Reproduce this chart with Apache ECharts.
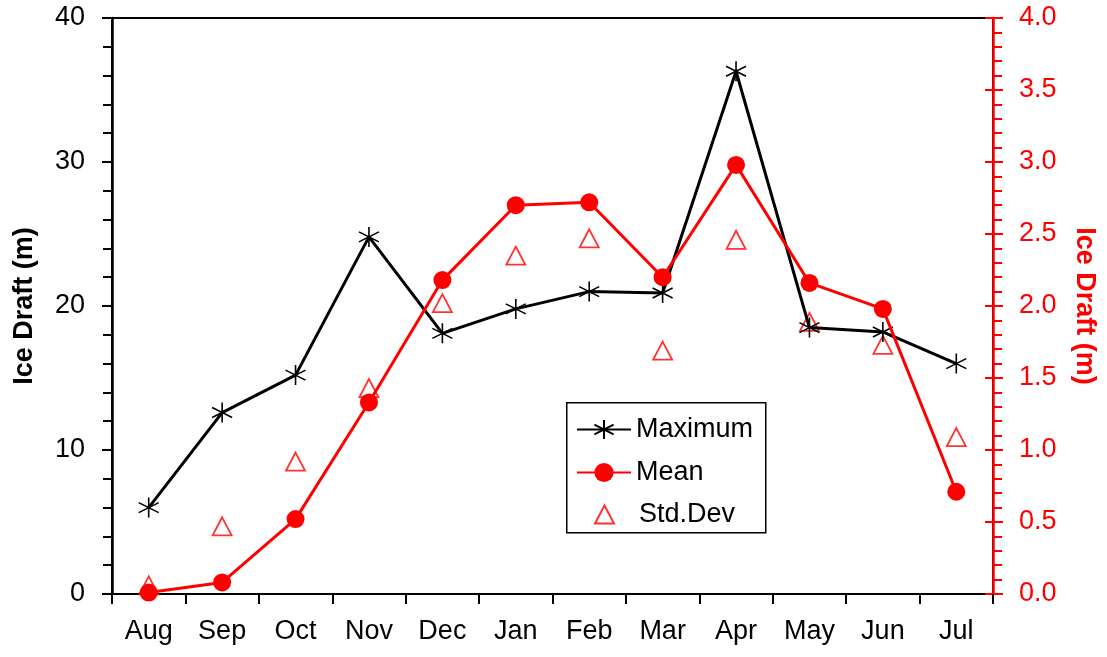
<!DOCTYPE html>
<html>
<head>
<meta charset="utf-8">
<script src="https://cdn.jsdelivr.net/npm/echarts@6/dist/echarts.min.js"></script>
<style>
    html, body { margin: 0; padding: 0; background: #fff; }
    #chart { width: 1107px; height: 657px; }
</style>
</head>
<body>
<div id="chart"></div>
<script>
// 月份
var months = ['Aug', 'Sep', 'Oct', 'Nov', 'Dec', 'Jan', 'Feb', 'Mar', 'Apr', 'May', 'Jun', 'Jul'];
// 最大冰吃水 (左轴, m)
var maximum = [6.0, 12.6, 15.2, 24.8, 18.1, 19.8, 21.0, 20.9, 36.3, 18.5, 18.2, 16.0];
// 平均冰吃水 (右轴, m)
var mean = [0.01, 0.08, 0.52, 1.33, 2.18, 2.70, 2.72, 2.20, 2.98, 2.16, 1.98, 0.71];
// 标准差 (右轴, m)
var stdDev = [0.06, 0.47, 0.92, 1.43, 2.02, 2.35, 2.47, 1.69, 2.46, 1.89, 1.73, 1.09];

var FONT = "'Liberation Sans', Arial, sans-serif";
var RED = '#ff0000';
var FS = 27;
// 星号标记
var asterisk = 'path://M0,-10L0,10M-8.66,-5L8.66,5M-8.66,5L8.66,-5';

var myChart = echarts.init(document.getElementById('chart'));

myChart.setOption({
    animation: false,
    textStyle: { fontFamily: FONT },
    grid: {
        left: 112,
        right: 114,
        top: 18,
        bottom: 63,
        show: true,
        borderColor: '#000',
        borderWidth: 2,
        backgroundColor: 'transparent'
    },
    // 图例外框
    graphic: [
        {
            type: 'rect',
            left: 566,
            top: 402,
            shape: { width: 199, height: 130 },
            style: { fill: '#fff', stroke: '#000', lineWidth: 1.5 },
            z: 5
        }
    ],
    legend: [
        {
            orient: 'vertical',
            left: 576,
            top: 414,
            itemWidth: 54,
            itemHeight: 24,
            itemGap: 12,
            padding: 0,
            z: 10,
            textStyle: { fontSize: FS, color: '#000', lineHeight: 31, fontFamily: FONT },
            data: ['Maximum', 'Mean']
        },
        {
            orient: 'vertical',
            left: 594,
            top: 499,
            itemWidth: 19,
            itemHeight: 18,
            padding: 0,
            z: 10,
            textStyle: {
                fontSize: FS,
                color: '#000',
                lineHeight: 31,
                fontFamily: FONT,
                padding: [0, 0, 0, 20]
            },
            data: ['Std.Dev']
        }
    ],
    xAxis: {
        type: 'category',
        data: months,
        boundaryGap: true,
        axisLine: { lineStyle: { color: '#000', width: 2 } },
        axisTick: { show: true, length: 10, lineStyle: { color: '#000', width: 2 } },
        axisLabel: { color: '#000', fontSize: FS, margin: 24, fontFamily: FONT }
    },
    yAxis: [
        {
            type: 'value',
            position: 'left',
            min: 0,
            max: 40,
            interval: 10,
            name: 'Ice Draft (m)',
            nameLocation: 'middle',
            nameRotate: 90,
            nameGap: 74,
            nameTextStyle: { fontSize: FS, fontWeight: 'bold', color: '#000', fontFamily: FONT },
            axisLine: { show: true, lineStyle: { color: '#000', width: 2.5 } },
            axisTick: { show: true, length: 10, lineStyle: { color: '#000', width: 2 } },
            minorTick: { show: true, splitNumber: 5, length: 9, lineStyle: { color: '#000', width: 2 } },
            splitLine: { show: false },
            axisLabel: { color: '#000', fontSize: FS, margin: 27, fontFamily: FONT }
        },
        {
            type: 'value',
            position: 'right',
            min: 0,
            max: 4,
            interval: 0.5,
            name: 'Ice Draft (m)',
            nameLocation: 'middle',
            nameRotate: -90,
            nameGap: 78,
            nameTextStyle: { fontSize: FS, fontWeight: 'bold', color: RED, fontFamily: FONT },
            axisLine: { show: true, lineStyle: { color: RED, width: 2.5 } },
            axisTick: { show: true, length: 10, lineStyle: { color: RED, width: 2 } },
            minorTick: { show: true, splitNumber: 5, length: 9, lineStyle: { color: RED, width: 2 } },
            splitLine: { show: false },
            axisLabel: {
                color: RED,
                fontSize: FS,
                margin: 26,
                fontFamily: FONT,
                formatter: function (v) { return v.toFixed(1); }
            }
        },
        {
            // 右轴主刻度向内的部分
            type: 'value',
            position: 'right',
            min: 0,
            max: 4,
            interval: 0.5,
            axisLine: { show: false },
            axisTick: { show: true, inside: true, length: 8, lineStyle: { color: RED, width: 2 } },
            axisLabel: { show: false },
            splitLine: { show: false }
        }
    ],
    series: [
        {
            name: 'Std.Dev',
            type: 'scatter',
            yAxisIndex: 1,
            data: stdDev,
            symbol: 'triangle',
            symbolSize: [19, 18],
            z: 1,
            itemStyle: { color: 'rgba(0,0,0,0)', borderColor: RED, borderWidth: 1.8 }
        },
        {
            name: 'Maximum',
            type: 'line',
            yAxisIndex: 0,
            data: maximum,
            symbol: asterisk,
            symbolSize: 20,
            showAllSymbol: true,
            z: 3,
            lineStyle: { color: '#000', width: 3 },
            itemStyle: { color: '#000', borderColor: '#000', borderWidth: 1.6 }
        },
        {
            name: 'Mean',
            type: 'line',
            yAxisIndex: 1,
            data: mean,
            symbol: 'circle',
            symbolSize: 18,
            showAllSymbol: true,
            z: 4,
            lineStyle: { color: RED, width: 3 },
            itemStyle: { color: RED, borderColor: RED, borderWidth: 0 }
        }
    ]
});

window.addEventListener('resize', function () {
    myChart.resize();
});
</script>
</body>
</html>
